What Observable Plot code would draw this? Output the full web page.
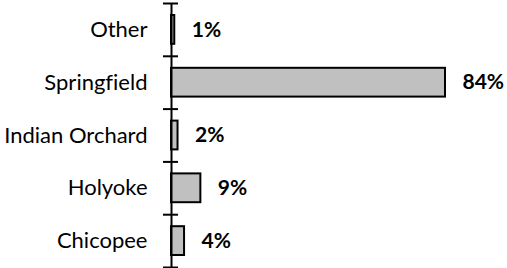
<!DOCTYPE html>
<html>
<head>
<meta charset="utf-8">
<script src="https://cdn.jsdelivr.net/npm/d3@7"></script>
<script src="https://cdn.jsdelivr.net/npm/@observablehq/plot@0.6"></script>
<style>
  html, body { margin: 0; padding: 0; background: #fff; }
  #chart svg { display: block; font-variant-ligatures: none; }
</style>
</head>
<body>
<div id="chart"></div>
<script>
const categories = ["Other", "Springfield", "Indian Orchard", "Holyoke", "Chicopee"];
const values = [1, 84, 2, 9, 4];
const tickPositions = [0, 1, 2, 3, 4, 5];

const data = categories.map((c, i) => ({category: c, value: values[i], i}));

const chart = Plot.plot({
  width: 507,
  height: 268,
  marginLeft: 171,
  marginRight: 62,
  marginTop: 3,
  marginBottom: 1,
  style: {fontFamily: "Lato, sans-serif", background: "#fff"},
  x: {domain: [0, 84], axis: null},
  y: {domain: [0, 5], reverse: true, axis: null},
  marks: [
    Plot.rectX(data, {
      x1: 0, x2: "value",
      y1: d => d.i, y2: d => d.i + 1,
      insetTop: 12, insetBottom: 12,
      fill: "#c0c0c0", stroke: "#000", strokeWidth: 2
    }),
    Plot.ruleX([0], {y1: 0, y2: 5, stroke: "#000", strokeWidth: 2}),
    Plot.ruleY(tickPositions, {x1: 0, x2: 0, insetLeft: -8, insetRight: -7, stroke: "#000", strokeWidth: 2}),
    Plot.text(data, {
      x: 0, y: d => d.i + 0.5, text: "category",
      textAnchor: "end", dx: -24, fontSize: 22, fill: "#000"
    }),
    Plot.text(data, {
      x: "value", y: d => d.i + 0.5, text: d => `${d.value}%`,
      textAnchor: "start", dx: 17, fontSize: 21, fontWeight: "bold", fill: "#000"
    })
  ]
});
document.getElementById("chart").append(chart);
</script>
</body>
</html>
